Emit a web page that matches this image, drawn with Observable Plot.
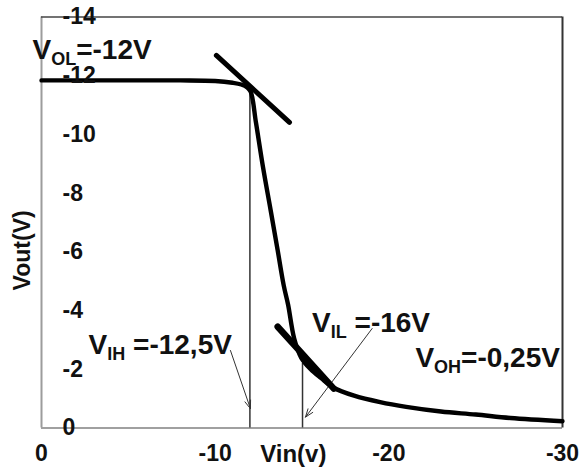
<!DOCTYPE html>
<html><head><meta charset="utf-8">
<script src="https://cdn.jsdelivr.net/npm/d3@7"></script>
<script src="https://cdn.jsdelivr.net/npm/@observablehq/plot@0.6"></script>
<style>body{margin:0;background:#fff;} svg{overflow:visible;}</style>
</head><body><div id="chart"></div>
<script>
// Transfer curve Vout vs Vin
const vin  = [0, -4, -8, -10, -11, -11.5, -11.85, -12.05, -12.35, -12.75, -13.2, -13.6, -13.95, -14.2, -14.55, -14.95, -15.5, -16.1, -16.8, -18.0, -19.5, -21, -23, -25, -27, -30];
const vout = [-11.84, -11.84, -11.84, -11.82, -11.76, -11.7, -11.6, -11.45, -10.4, -8.9, -7.4, -6.05, -4.85, -4.2, -3.05, -2.4, -2.0, -1.7, -1.38, -1.1, -0.88, -0.72, -0.56, -0.46, -0.34, -0.23];

const xTicks = [0, -10, -20, -30];
const yTicks = [0, -2, -4, -6, -8, -10, -12, -14];

// tangent segments (data units)
const tanX1 = [-10.07, -13.6];
const tanY1 = [-12.69, -3.45];
const tanX2 = [-14.28, -16.83];
const tanY2 = [-10.41, -1.34];

// vertical markers
const markX = [-12.0, -15.03];
const markTop = [-11.6, -2.2];

// arrows from labels to markers
const arrX1 = [-10.88, -19.04];
const arrY1 = [-2.64, -3.39];
const arrX2 = [-12.03, -15.2];
const arrY2 = [-0.66, -0.37];

// annotation labels (main|subscript|rest)
const labelTexts = ["V|OL|=-12V", "V|IH| =-12,5V", "V|IL| =-16V", "V|OH|=-0,25V"];
const labelX = [0.52, -2.71, -15.58, -21.53];
const labelY = [-12.88, -2.81, -3.59, -2.40];

const curve = vin.map((x, i) => ({x, y: vout[i]}));
const tangents = tanX1.map((d, i) => ({x1: d, y1: tanY1[i], x2: tanX2[i], y2: tanY2[i], w: i === 0 ? 5 : 6.5}));
const marks = markX.map((x, i) => ({x, y1: markTop[i], y2: 0}));
const arrows = arrX1.map((d, i) => ({x1: d, y1: arrY1[i], x2: arrX2[i], y2: arrY2[i]}));
const labels = labelTexts.map((t, i) => ({t, x: labelX[i], y: labelY[i]}));

const font = "Liberation Sans, Arial, sans-serif";

const chart = Plot.plot({
  width: 582,
  height: 468,
  marginLeft: 41,
  marginRight: 20,
  marginTop: 16.5,
  marginBottom: 40.5,
  style: {fontFamily: font, background: "#fff", overflow: "visible"},
  x: {domain: [0, -30], axis: null},
  y: {domain: [0, -14], axis: null},
  marks: [
    Plot.ruleX([0], {stroke: "#9c9c9c", strokeWidth: 2}),
    Plot.ruleY([0], {stroke: "#a0a0a0", strokeWidth: 2}),
    Plot.ruleY([-14], {stroke: "#444", strokeWidth: 1.6}),
    Plot.ruleX([-30], {stroke: "#333", strokeWidth: 2}),
    Plot.ruleX(marks, {x: "x", y1: "y1", y2: "y2", stroke: "#333", strokeWidth: 1.5}),
    Plot.arrow(arrows, {x1: "x1", y1: "y1", x2: "x2", y2: "y2", stroke: "#333", strokeWidth: 1, headLength: 13, headAngle: 40}),
    Plot.line(curve, {x: "x", y: "y", stroke: "#000", strokeWidth: 4.4, curve: "catmull-rom"}),
    Plot.link(tangents, {x1: "x1", y1: "y1", x2: "x2", y2: "y2", stroke: "#000", strokeWidth: d => d.w, strokeLinecap: "round"}),
    Plot.text(yTicks, {x: 0, y: d => d, text: d => String(d), dx: 21, textAnchor: "start", fontSize: 23, fontWeight: "bold", fill: "#111"}),
    Plot.text(xTicks, {x: d => d, y: 0, text: d => String(d), dy: 26, fontSize: 23, fontWeight: "bold", fill: "#111"}),
    Plot.text(["Vin(v)"], {x: -14.5, y: 0, text: d => d, dy: 26, fontSize: 24, fontWeight: "bold", fill: "#111"}),
    Plot.text(["Vout(V)"], {x: 1.09, y: -6.05, text: d => d, rotate: -90, fontSize: 23, fontWeight: "bold", fill: "#111"}),
    Plot.text(labels, {x: "x", y: "y", text: "t", textAnchor: "start", fontSize: 28, fontWeight: "bold", fill: "#111"})
  ]
});

// turn "main|sub|rest" into tspans with a subscript
d3.select(chart).selectAll("text").each(function() {
  const el = d3.select(this);
  const s = el.text();
  if (!s.includes("|")) return;
  const [a, b, c] = s.split("|");
  el.text(null);
  el.append("tspan").text(a);
  el.append("tspan").attr("font-size", 18).attr("dy", 6).text(b);
  el.append("tspan").attr("dy", -6).text(c);
});

document.getElementById("chart").appendChild(chart);
</script>
</body></html>
